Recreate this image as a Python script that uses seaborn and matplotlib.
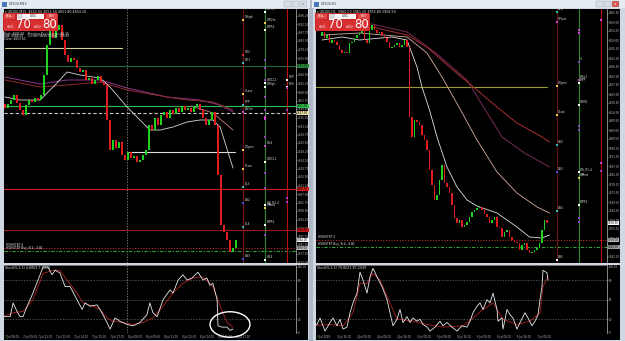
import matplotlib
matplotlib.use("Agg")
import matplotlib.pyplot as plt
from matplotlib.patches import Rectangle, Ellipse
from matplotlib import ticker
import numpy as np
import pandas as pd
import seaborn as sns

W, H = 625, 341

# ===================== LEFT WINDOW : UK100, M15 =====================
left_title = "UK100,M15"
left_header = "\u25be UK100,M15  4652.00 4653.50 4651.80 4653.10"
left_open0 = 4652.0
left_close = [4650, 4652, 4654, 4656.5, 4652.5, 4649, 4646.5, 4651.5, 4654, 4653,
              4655, 4654, 4656.5, 4666.5, 4681.5, 4689, 4685, 4689, 4691.5, 4684,
              4676.5, 4673, 4675, 4674, 4670, 4668, 4669, 4664, 4665, 4662,
              4664, 4666, 4663, 4661.5, 4644, 4629, 4634, 4630, 4633, 4626.5,
              4624, 4628, 4625, 4626, 4623, 4624, 4626.5, 4629, 4641.5, 4639,
              4645, 4641.5, 4646.5, 4648, 4645, 4649, 4647, 4650, 4648, 4651,
              4649, 4650, 4648, 4651, 4652, 4649, 4645, 4641.5, 4644, 4648,
              4641.5, 4616.5, 4591.5, 4588, 4584, 4578, 4580, 4584]

left_ma_fast_x = [0, 5, 11.7, 16.7, 20.7, 25, 31.7, 35, 40.7, 45, 48.3, 51.7, 56, 60.7, 65, 69.3, 71.7, 76]
left_ma_fast_y = [4655.5, 4654, 4654, 4661.5, 4668, 4666.5, 4665, 4660.5, 4650.5, 4644, 4639, 4639,
                  4640.5, 4643, 4644, 4644, 4640.5, 4620]
left_ma_slow_x = [0, 11.7, 20.7, 31.7, 40.7, 54, 60.7, 69.3, 76]
left_ma_slow_y = [4664, 4660.5, 4661.5, 4663, 4659, 4655.5, 4654, 4653, 4649]
left_ma_long_x = [0, 11.7, 20.7, 31.7, 40.7, 54, 65, 71.7, 76]
left_ma_long_y = [4665.5, 4662, 4664, 4664, 4660, 4655.5, 4654, 4651.5, 4648]
left_ma_mid_x = [62, 69.3, 76]
left_ma_mid_y = [4651, 4647.5, 4639]

left_levels_price = [4680, 4671, 4651, 4647.5, 4628, 4609.5, 4589, 4580, 4578.5]
left_levels_color = ['#d6cf9c', '#1d6b3b', '#2fbf4f', '#c8c8c8', '#dcdcdc', '#d41c1c', '#9c1a1a', '#c03030', '#3aa03a']
left_levels_style = ['-', '-', '-', (0, (3, 2)), '-', '-', '-', (0, (1, 1.5)), (0, (3, 1.5, 1, 1.5))]
left_levels_from = [0, None, None, None, 40.7, None, None, None, None]
left_levels_to = [39, None, None, None, 76.7, None, None, None, None]

left_boxes_price = [4671, 4651, 4647.5, 4609.5, 4589, 4584, 4580]
left_boxes_color = ['#2a8a3a', '#2fbf4f', '#e8e0a0', '#d41c1c', '#c01818', '#ffffff', '#bbbbbb']

left_cols_x = [79.3, 86.7, 94.0]
left_cols_color = ['#7a1212', '#2a8a2a', '#b81010']
left_colA_names = ["DHigh", "DR2", "DR1", "DLast", "DPP", "DS1m", "DOpen", "DLow", "DL3", "DS2", "DL4", "DS3"]
left_colA_price = [4694, 4676.5, 4672.5, 4657, 4651.5, 4648, 4629, 4619.5, 4610.5, 4602.5, 4590.5, 4574.5]
left_colA_color = ['#e8d040', '#d03030', '#30c0c0', '#e8d040', '#30c0c0', '#d040d0', '#e8d040', '#e8d040',
                   '#30c0c0', '#3050e0', '#30c0c0', '#3050e0']
left_colB_names = ["WPR3", "WR2m", "WPR2", "", "", "", "WOCL1", "WHigh", "", "", "", "", "", "WL4", "WOCL1",
                   "", "", "WS_R1.4", "WMed", "WPR1", "", "WL4"]
left_colB_price = [4698, 4692.5, 4689, 4674, 4670, 4664, 4662.5, 4660.5, 4655.5, 4649, 4645.5, 4644.5, 4635.5,
                   4631, 4623, 4617.5, 4610, 4601.5, 4600, 4591.5, 4586.5, 4574]
left_colB_color = ['#ffffff', '#e8d040', '#ffffff', '#9040c0', '#9040c0', '#9040c0', '#ffffff', '#ffffff',
                   '#9040c0', '#9040c0', '#d040d0', '#d040d0', '#9040c0', '#d040d0', '#ffffff', '#9040c0',
                   '#9040c0', '#ffffff', '#e8d040', '#ffffff', '#9040c0', '#ffffff']
left_colC_names = ["R1P", "R1S", "", "", "", ""]
left_colC_price = [4664, 4660.5, 4660, 4649, 4605, 4603]
left_colC_color = ['#ffffff', '#ffffff', '#9040c0', '#9040c0', '#9040c0', '#9040c0']

left_osc_k_x = [-0.7, 1.7, 2.7, 4, 5, 6, 7.3, 9.3, 11, 12.7, 14.3, 15.7, 16.7, 18.3, 20, 21.7, 24, 25.7, 26.7,
                28.3, 30.7, 32.3, 34, 35, 36.7, 38.3, 40.7, 42.7, 45, 47.3, 48.3, 49.3, 50.7, 52.7, 55, 56,
                57.7, 59.3, 60.7, 62.3, 64.3, 66, 67.3, 68.3, 69.3, 70.7, 71, 72.3, 74, 75, 76]
left_osc_k = [24, 24, 45, 32, 24, 24, 39, 60, 80, 100, 100, 88, 95, 91, 70, 70, 50, 35, 45,
              40, 42, 30, 15, 5, 22, 17, 12, 10, 15, 27, 45, 30, 24, 50, 65, 60,
              80, 88, 80, 83, 92, 80, 83, 72, 75, 50, 10, 8, 8, 3, 5]
left_osc_d_x = [-0.7, 2.7, 6, 9.3, 12.7, 16, 18.3, 20.7, 24, 26, 29.3, 31.7, 34, 36, 39.3, 42.7, 46, 49.3,
                52.7, 56, 59.3, 62.7, 66, 69.3, 71.7, 74, 76]
left_osc_d = [24, 30, 32, 50, 90, 95, 95, 80, 60, 45, 40, 35, 22, 17, 15, 12, 15, 22,
              40, 60, 75, 83, 85, 70, 40, 15, 8]
left_osc_header = "Stoch(5,3,3) 4.8803 7.4433"
left_time_pos = [0, 6, 11, 17, 23, 29, 35, 41, 47, 53, 59, 65, 71, 77]
left_time_lbl = ["7 Jul 08:00", "7 Jul 09:30", "7 Jul 11:00", "7 Jul 12:30", "7 Jul 14:00", "7 Jul 15:30",
                 "7 Jul 17:00", "8 Jul 08:00", "8 Jul 09:30", "8 Jul 11:00", "8 Jul 12:30", "8 Jul 14:00",
                 "8 Jul 15:30", "8 Jul 17:00"]

# ===================== RIGHT WINDOW : UK100, H1 =====================
right_title = "UK100,H1"
right_header = "\u25be UK100,H1  3960.00 3961.50 3955.80 3958.50"
right_open0 = 4052.0
right_close = [4054, 4051, 4052.5, 4048.5, 4050, 4049, 4047.5, 4045, 4043.5, 4044,
               4043.5, 4048.5, 4049, 4051, 4052.5, 4053.5, 4055, 4050, 4048.5, 4055,
               4057.5, 4055, 4053.5, 4054, 4052.5, 4051, 4049, 4046, 4046.5, 4047.5,
               4048.5, 4046.5, 4047.5, 4050, 4046.5, 4011.5, 4001.5, 4010, 4009, 4007.5,
               4002.5, 4000, 3995, 3985, 3977.5, 3970, 3972.5, 3980, 3987.5, 3978.5,
               3976.5, 3973.5, 3967.5, 3961, 3958.5, 3960, 3956.5, 3957.5, 3959, 3961.5,
               3964, 3965, 3966, 3966.5, 3965, 3963, 3961.5, 3958.5, 3960, 3961.5,
               3956.5, 3956, 3951.5, 3954, 3955, 3951.5, 3950, 3949, 3948.5, 3945,
               3947.5, 3948.5, 3945, 3943.5, 3944, 3945, 3946, 3948.5, 3955, 3960,
               3958.5]

right_ma_fast_x = [0, 8, 15, 28, 34, 38, 40, 43, 46, 50, 54, 58, 62, 70, 78, 83, 88, 91]
right_ma_fast_y = [4050, 4051.5, 4050, 4051.5, 4050, 4036.5, 4026.5, 4015, 4001.5, 3986.5, 3976.5, 3970,
                   3967, 3963.5, 3956.5, 3951.5, 3951, 3952.5]
right_ma_slow_x = [0, 15, 34, 42, 48, 55, 62, 70, 78, 86, 91]
right_ma_slow_y = [4052.5, 4053.5, 4051.5, 4043.5, 4031.5, 4016, 4000, 3984, 3973.5, 3966.5, 3963.5]
right_ma_long_x = [0, 20, 34, 42, 51, 62, 70, 78, 88, 91]
right_ma_long_y = [4055, 4056.5, 4052.5, 4046.5, 4036.5, 4025, 4016.5, 4008.5, 4001.5, 3999]
right_ma_vlong_x = [0, 20, 34, 46, 58, 72, 81, 91]
right_ma_vlong_y = [4057, 4058, 4054, 4043, 4030, 4001.5, 3993.5, 3986.5]

right_levels_price = [4026.5, 3950, 3946.5]
right_levels_color = ['#9a9a30', '#c03030', '#3aa03a']
right_levels_style = ['-', (0, (1, 1.5)), (0, (3, 1.5, 1, 1.5))]
right_levels_from = [None, None, None]
right_levels_to = [90, None, None]

right_boxes_price = [3958.5, 3950, 3946.5]
right_boxes_color = ['#ffffff', '#bbbbbb', '#999999']

right_cols_x = [94.0, 102.8, 111.6]
right_cols_color = ['#6a1010', '#2a8a2a', '#b81010']
right_colA_names = ["Last", "DPivot", "DOpen", "DLow", "DS2", "DS3", "DS4", "DS5"]
right_colA_price = [4064, 4059, 4027, 4012.5, 3997.5, 3984, 3964.5, 3940]
right_colA_color = ['#30c0c0', '#d040d0', '#e8d040', '#e8d040', '#30c0c0', '#3050e0', '#30c0c0', '#ffffff']
right_colB_names = ["", "", "4", "WSL1", "WPP", "WOS1", "", "", "WS_R1.4", "WMed", "WPR1", "", ""]
right_colB_price = [4055, 4053.5, 4039, 4030, 4028.5, 4017.5, 4007, 4005, 3984, 3981, 3967.5, 3961, 3959]
right_colB_color = ['#d040d0', '#d040d0', '#9040c0', '#d040d0', '#ffffff', '#ffffff', '#9040c0', '#9040c0',
                    '#ffffff', '#e8d040', '#ffffff', '#9040c0', '#9040c0']
right_colC_names = ["", "", ""]
right_colC_price = [4060, 3988.5, 3984.5]
right_colC_color = ['#d040d0', '#d040d0', '#9040c0']

right_osc_k_x = [-4.8, -2, -0.8, 1.2, 3.2, 4.4, 6, 7.2, 8.4, 10, 11.2, 12.4, 14, 15.2, 16.4, 18, 19.2, 20.4,
                 22, 24, 26, 27.2, 28.4, 30, 31.2, 32.4, 34, 35.2, 36.4, 38, 39.2, 40.4, 42, 43.2, 45.2,
                 47.2, 48.4, 50, 52, 54, 56, 58, 59.2, 60.4, 62, 63.2, 64.4, 66, 67.2, 68.4, 70, 70.4,
                 72, 72.4, 74, 75.2, 76.4, 78, 79.2, 81.2, 82.4, 84, 85.2, 86.4, 87.2, 88, 88.4, 90, 90.4]
right_osc_k = [12, 12, 22, 2, 15, 22, 10, 20, 5, 8, 30, 45, 60, 92, 80, 60, 85, 98,
               85, 70, 50, 30, 10, 20, 35, 15, 24, 15, 22, 17, 20, 12, 8, 2, 8,
               17, 10, 15, 8, 2, 10, 8, 17, 30, 40, 45, 35, 50, 45, 60, 35, 17,
               22, 5, 35, 27, 22, 5, 15, 30, 22, 10, 17, 27, 50, 70, 95, 91, 80]
right_osc_d_x = [-4.8, 3.2, 8.4, 12.4, 15.2, 18, 20.4, 23.2, 27.2, 30, 35.2, 42, 48.4, 56.4, 60.4, 64.4,
                 68.4, 72.4, 78, 83.2, 87.2, 88.4, 90.4]
right_osc_d = [10, 12, 10, 30, 75, 75, 90, 80, 45, 20, 18, 12, 8, 10, 22, 35,
               45, 20, 12, 17, 30, 70, 85]
right_osc_header = "Stoch(5,3,3) 79.8621 87.2049"
right_time_pos = [-2, 6, 14, 22, 30, 38, 46, 54, 62, 70, 78, 86]
right_time_lbl = ["3 Jul 2018", "3 Jul 16:00", "4 Jul 00:00", "4 Jul 08:00", "4 Jul 16:00", "5 Jul 00:00",
                  "5 Jul 08:00", "5 Jul 16:00", "6 Jul 00:00", "6 Jul 08:00", "6 Jul 16:00", "7 Jul 00:00"]

# ===================== drawing =====================
sns.set_style("dark", {"axes.facecolor": "black", "figure.facecolor": "#cfd8e3"})
plt.rcParams['font.family'] = ['DejaVu Sans']

fig = plt.figure(figsize=(6.25, 3.41), dpi=100)
fig.set_facecolor('#cfd8e3')

TINY = 2.3
AXF = 2.0


def rect(x0, y0, x1, y1):
    return [x0 / W, 1 - y1 / H, (x1 - x0) / W, (y1 - y0) / H]


def fig_rect(x0, y0, x1, y1, color, ec='none', lw=0, z=0):
    fig.patches.append(Rectangle((x0 / W, 1 - y1 / H), (x1 - x0) / W, (y1 - y0) / H,
                                 transform=fig.transFigure, facecolor=color, edgecolor=ec,
                                 linewidth=lw, zorder=z))


def fig_text(x, y, s, **kw):
    fig.text(x / W, 1 - y / H, s, **kw)


def add_ax(x0, y0, x1, y1, z=1):
    ax = fig.add_axes(rect(x0, y0, x1, y1), zorder=z)
    ax.set_facecolor('black')
    for s in ax.spines.values():
        s.set_visible(False)
    ax.set_xticks([])
    ax.set_yticks([])
    ax.grid(False)
    return ax


def draw_window(wx0, wx1, cx1, sx1, title, active, header, open0, closes, mas, levels, boxes, cols, colpiv,
                oscK, oscD, osc_header, times, hs, xlim, ylim, ystep, width, osc_ellipse=None,
                vline=None, panel_info=False):
    # title bar
    fig_rect(wx0, 0, wx1, 8, '#e6ecf3')
    fig_text(wx0 + 9, 4, title, fontsize=TINY, color='#333333', va='center')
    fig_rect(wx0 + 2, 1.5, wx0 + 7, 6.5, '#4a78b8')
    bx = sx1 - 24
    for i in range(3):
        c = '#d9534f' if (active and i == 2) else '#d8dee6'
        fig_rect(bx + i * 8, 1, bx + i * 8 + 7, 7, c, ec='#9aa4b0', lw=0.3)
    fig_text(bx + 19.5, 4, "x", fontsize=3, color='white' if active else '#666', ha='center', va='center')

    cx0 = wx0 + 4
    # strips (behind)
    add_ax(cx1, 9, sx1, 263, z=0)
    add_ax(cx1, 265, sx1, 333, z=0)
    add_ax(cx0, 333, sx1, 340, z=0)

    # ---- main price chart ----
    ax = add_ax(cx0, 9, cx1, 263, z=2)
    ax.set_xlim(*xlim)
    ax.set_ylim(*ylim)
    o = np.array([open0] + list(closes[:-1]), dtype=float)
    c = np.array(closes, dtype=float)
    x = np.arange(len(c))
    up = c >= o
    bot = np.minimum(o, c)
    hgt = np.maximum(np.abs(c - o), 0.35)
    ax.bar(x[up], hgt[up], width, bot[up], color='#1ed21e', linewidth=0, zorder=4)
    ax.bar(x[~up], hgt[~up], width, bot[~up], color='#e21c1c', linewidth=0, zorder=4)

    for (mx, my, col, lw) in mas:
        sns.lineplot(x=mx, y=my, ax=ax, color=col, linewidth=lw, sort=False, zorder=3)

    for (p, col, ls, xf, xt) in levels:
        if xf is None and xt is None:
            ax.axhline(p, color=col, linestyle=ls, linewidth=0.8, zorder=2)
        else:
            ax.plot([xlim[0] if xf is None else xf, xt], [p, p], color=col, linestyle=ls,
                    linewidth=0.8, zorder=2)

    for cxp, ccol in zip(cols[0], cols[1]):
        ax.axvline(cxp, color=ccol, linewidth=0.8, zorder=2)
    for cxp, (names, prices, colors) in zip(cols[0], colpiv):
        for nm, pr, cl in zip(names, prices, colors):
            ax.plot([cxp], [pr], marker='s', markersize=1.6, color=cl, markeredgewidth=0, zorder=6)
            if nm:
                ax.text(cxp + 0.5, pr + 0.4, nm, fontsize=2.1, color='#e0e0e0', va='bottom', zorder=6)

    if vline is not None:
        ax.axvline(vline, color='#9a9a9a', linewidth=0.5, linestyle=(0, (2, 2)), zorder=1)

    ax.text(0.004, 0.997, header, transform=ax.transAxes, fontsize=TINY, color='#e8e8e8', va='top')

    ax.yaxis.tick_right()
    ax.yaxis.set_major_locator(ticker.MultipleLocator(ystep))
    ax.yaxis.set_major_formatter(ticker.FormatStrFormatter('%.2f'))
    ax.tick_params(axis='y', colors='#bdbdbd', labelsize=AXF, length=1.0, width=0.4, pad=0.6)
    ax.tick_params(axis='x', length=0)
    ax.spines['right'].set_visible(True)
    ax.spines['right'].set_color('#bdbdbd')
    ax.spines['right'].set_linewidth(0.5)
    ax.set_xlabel('')
    ax.set_ylabel('')

    for p, col in zip(*boxes):
        ax.text(1.004, p, "%.2f" % p, transform=ax.get_yaxis_transform(), fontsize=AXF,
                color='black', va='center', ha='left', zorder=8, clip_on=False,
                bbox=dict(boxstyle='square,pad=0.12', facecolor=col, edgecolor='none'))

    ax.text(xlim[0] + 0.6, hs[0], "HIGHSTEP 4", fontsize=2.1, color='#dddddd', va='bottom', zorder=6)
    ax.text(xlim[0] + 0.6, hs[1], "HIGHSTEP Buy_SL4,, 4 AC", fontsize=2.1, color='#dddddd',
            va='bottom', zorder=6)

    # ---- oscillator ----
    ox = add_ax(cx0, 265, cx1, 333, z=2)
    ox.set_xlim(*xlim)
    ox.set_ylim(-1, 103)
    for lv in (20, 50, 80):
        ox.axhline(lv, color='#6a6a6a', linewidth=0.5, linestyle=(0, (2, 2)), zorder=1)
    sns.lineplot(x=oscD[0], y=oscD[1], ax=ox, color='#b02020', linewidth=0.6, sort=False, zorder=3)
    sns.lineplot(x=oscK[0], y=oscK[1], ax=ox, color='#e8e8e8', linewidth=0.6, sort=False, zorder=4)
    if vline is not None:
        ox.axvline(vline, color='#9a9a9a', linewidth=0.5, linestyle=(0, (2, 2)), zorder=1)
    if osc_ellipse is not None:
        ox.add_patch(Ellipse(osc_ellipse[0], osc_ellipse[1], osc_ellipse[2], fill=False,
                             edgecolor='white', linewidth=1.0, clip_on=False, zorder=6))
    ox.text(0.004, 0.985, osc_header, transform=ox.transAxes, fontsize=TINY, color='#e0e0e0', va='top')
    ox.yaxis.tick_right()
    ox.set_yticks([0, 20, 50, 80, 100])
    ox.set_yticklabels(['0', '20', '50', '80', '100.00'])
    ox.set_xticks(times[0])
    ox.set_xticklabels(times[1])
    for lb in ox.get_xticklabels():
        lb.set_ha('left')
    ox.tick_params(axis='y', colors='#bdbdbd', labelsize=AXF, length=1.0, width=0.4, pad=0.6)
    ox.tick_params(axis='x', colors='#bdbdbd', labelsize=1.9, length=1.0, width=0.4, pad=0.5)
    ox.spines['right'].set_visible(True)
    ox.spines['right'].set_color('#bdbdbd')
    ox.spines['right'].set_linewidth(0.5)
    ox.spines['top'].set_visible(True)
    ox.spines['top'].set_color('#8a8a8a')
    ox.spines['top'].set_linewidth(0.6)
    ox.set_xlabel('')
    ox.set_ylabel('')

    # trading panel
    px = wx0 + 3
    fig_rect(px, 13, px + 55, 31, '#c92424', z=5)
    fig_rect(px + 1, 13.5, px + 12, 18.5, '#e04848', z=6)
    fig_rect(px + 43, 13.5, px + 54, 18.5, '#e04848', z=6)
    fig_rect(px + 14, 13.5, px + 41, 18.5, '#f4f4f4', z=6)
    fig_rect(px + 15, 14.3, px + 19, 17.7, '#dddddd', ec='#888', lw=0.2, z=7)
    fig_text(px + 6.5, 16, "SELL", fontsize=2.2, color='white', ha='center', va='center', zorder=8)
    fig_text(px + 48.5, 16, "BUY", fontsize=2.2, color='white', ha='center', va='center', zorder=8)
    fig_text(px + 30, 16, "0.01", fontsize=2.2, color='#222', ha='center', va='center', zorder=8)
    fig_rect(px + 1, 19.5, px + 27, 30.5, '#d83030', z=6)
    fig_rect(px + 28, 19.5, px + 54, 30.5, '#d83030', z=6)
    fig_text(px + 8, 26.5, "4651", fontsize=2.2, color='white', ha='center', va='center', zorder=8)
    fig_text(px + 35, 26.5, "4652", fontsize=2.2, color='white', ha='center', va='center', zorder=8)
    fig_text(px + 20, 25, "70", fontsize=8.5, color='white', ha='center', va='center', zorder=8)
    fig_text(px + 47, 25, "80", fontsize=8.5, color='white', ha='center', va='center', zorder=8)
    if panel_info:
        fig_text(px + 1, 33.5, "High: 4695.00    Previous Day's Range: 88.35", fontsize=2.1, color='#e0e0e0',
                 va='center', zorder=8)
        fig_text(px + 1, 36.5, "Low: 4586.00     Current Week Range: 156.40", fontsize=2.1, color='#e0e0e0',
                 va='center', zorder=8)
        fig_text(px + 1, 39.5, "Close: 4653.60", fontsize=2.1, color='#e0e0e0', va='center', zorder=8)


fig_rect(309, 0, 313, 341, '#aeb8c4')

draw_window(0, 310, 296, 308, left_title, False, left_header, left_open0, left_close,
            [(left_ma_long_x, left_ma_long_y, '#8a3a8a', 0.7),
             (left_ma_slow_x, left_ma_slow_y, '#8e2a2a', 0.7),
             (left_ma_mid_x, left_ma_mid_y, '#d08080', 0.6),
             (left_ma_fast_x, left_ma_fast_y, '#d8d8d8', 0.6)],
            list(zip(left_levels_price, left_levels_color, left_levels_style, left_levels_from, left_levels_to)),
            (left_boxes_price, left_boxes_color),
            (left_cols_x, left_cols_color),
            [(left_colA_names, left_colA_price, left_colA_color),
             (left_colB_names, left_colB_price, left_colB_color),
             (left_colC_names, left_colC_price, left_colC_color)],
            (left_osc_k_x, left_osc_k), (left_osc_d_x, left_osc_d), left_osc_header,
            (left_time_pos, left_time_lbl), [4580.5, 4579],
            xlim=(-1 / 3, 97), ylim=(4572.5, 4699.5), ystep=4.25, width=0.75,
            osc_ellipse=((75, 12), 13.3, 39), vline=40.7, panel_info=True)

draw_window(312, 625, 607, 620, right_title, True, right_header, right_open0, right_close,
            [(right_ma_vlong_x, right_ma_vlong_y, '#7a2a5a', 0.7),
             (right_ma_long_x, right_ma_long_y, '#a83030', 0.7),
             (right_ma_slow_x, right_ma_slow_y, '#d8b0a0', 0.6),
             (right_ma_fast_x, right_ma_fast_y, '#e0e0e0', 0.6)],
            list(zip(right_levels_price, right_levels_color, right_levels_style, right_levels_from,
                     right_levels_to)),
            (right_boxes_price, right_boxes_color),
            (right_cols_x, right_cols_color),
            [(right_colA_names, right_colA_price, right_colA_color),
             (right_colB_names, right_colB_price, right_colB_color),
             (right_colC_names, right_colC_price, right_colC_color)],
            (right_osc_k_x, right_osc_k), (right_osc_d_x, right_osc_d), right_osc_header,
            (right_time_pos, right_time_lbl), [3950.5, 3947],
            xlim=(-2.4, 114), ylim=(3938.5, 4065.5), ystep=4.5, width=0.7)

fig.savefig("out.png", dpi=100, facecolor=fig.get_facecolor())
